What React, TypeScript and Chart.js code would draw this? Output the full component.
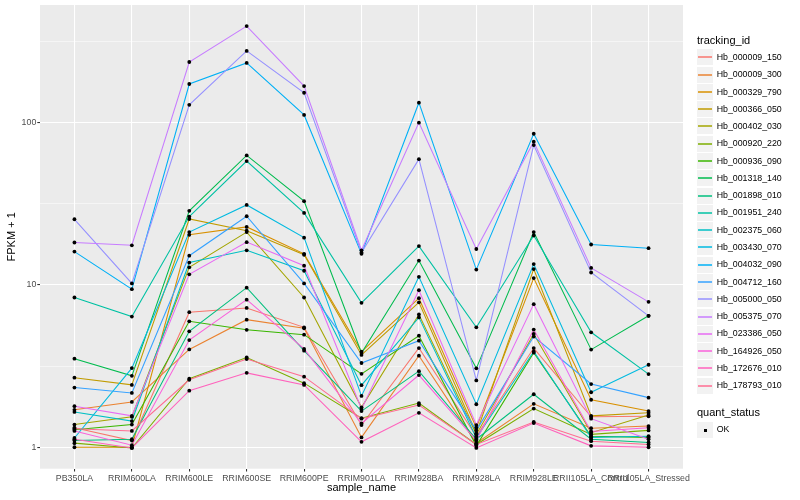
import React, { useEffect, useRef } from 'react';
import { Chart, registerables } from 'chart.js';

Chart.register(...registerables);

const FONT = '"Liberation Sans", Arial, Helvetica, sans-serif';

// ---------- data ----------
const categories = [
  'PB350LA', 'RRIM600LA', 'RRIM600LE', 'RRIM600SE', 'RRIM600PE', 'RRIM901LA',
  'RRIM928BA', 'RRIM928LA', 'RRIM928LE', 'RRII105LA_Control', 'RRII105LA_Stressed',
];

const hb000009_150 = [1.32, 1.10, 6.78, 7.2, 5.47, 1.37, 4.08, 1.17, 4.08, 1.54, 1.55];
const hb000009_300 = [1.70, 1.90, 4.0, 6.1, 5.4, 1.15, 3.66, 1.06, 1.85, 1.31, 1.35];
const hb000329_790 = [1.00, 1.00, 20.3, 22.7, 15.5, 3.88, 8.27, 1.32, 11.0, 1.96, 1.67];
const hb000366_050 = [2.68, 2.42, 25.4, 21.5, 15.3, 3.70, 7.8, 1.22, 12.5, 1.56, 1.63];
const hb000402_030 = [1.38, 1.54, 12.8, 21.1, 8.35, 1.76, 6.56, 1.20, 4.98, 1.23, 1.58];
const hb000920_220 = [1.06, 0.99, 2.64, 3.57, 2.48, 1.51, 1.87, 1.04, 1.73, 1.20, 1.27];
const hb000936_090 = [1.28, 1.38, 5.96, 5.28, 4.93, 2.83, 4.86, 1.02, 3.82, 1.17, 1.15];
const hb001318_140 = [3.51, 2.75, 28.5, 62.5, 32.7, 3.80, 14.1, 3.06, 21.1, 3.99, 6.44];
const hb001898_010 = [1.10, 1.12, 5.17, 9.6, 3.93, 1.67, 2.94, 1.12, 2.12, 1.12, 1.07];
const hb001951_240 = [8.35, 6.37, 26.3, 57.7, 27.7, 7.74, 17.3, 5.47, 20.1, 5.10, 2.82];
const hb002375_060 = [1.65, 1.45, 13.7, 16.3, 12.2, 2.41, 6.3, 1.14, 3.89, 1.15, 1.17];
const hb003430_070 = [1.14, 3.07, 21.1, 31.0, 19.5, 2.07, 11.2, 1.84, 13.4, 2.18, 3.22];
const hb004032_090 = [16.0, 9.4, 172, 232, 111, 15.5, 132, 12.4, 85, 17.7, 16.8];
const hb004712_160 = [2.33, 2.16, 15.1, 26.4, 10.2, 3.30, 4.53, 1.27, 4.80, 2.45, 2.02];
const hb005000_050 = [25.3, 10.2, 128, 275, 152, 15.8, 59.3, 2.58, 72.4, 11.9, 6.44];
const hb005375_070 = [18.2, 17.5, 235, 391, 167, 16.3, 99.5, 16.6, 76, 12.7, 7.85];
const hb023386_050 = [1.79, 1.56, 11.6, 18.3, 13.1, 1.72, 9.26, 1.37, 7.6, 1.50, 1.12];
const hb164926_050 = [1.26, 1.03, 4.57, 8.1, 4.03, 1.40, 2.78, 1.10, 5.3, 1.25, 1.32];
const hb172676_010 = [1.12, 0.99, 2.23, 2.87, 2.42, 1.08, 1.63, 0.99, 1.41, 1.02, 1.00];
const hb178793_010 = [1.30, 1.26, 2.60, 3.49, 2.72, 1.50, 1.82, 1.04, 1.43, 1.09, 1.04];

const seriesIds = [
  'Hb_000009_150', 'Hb_000009_300', 'Hb_000329_790', 'Hb_000366_050', 'Hb_000402_030',
  'Hb_000920_220', 'Hb_000936_090', 'Hb_001318_140', 'Hb_001898_010', 'Hb_001951_240',
  'Hb_002375_060', 'Hb_003430_070', 'Hb_004032_090', 'Hb_004712_160', 'Hb_005000_050',
  'Hb_005375_070', 'Hb_023386_050', 'Hb_164926_050', 'Hb_172676_010', 'Hb_178793_010',
];
const seriesValues = [
  hb000009_150, hb000009_300, hb000329_790, hb000366_050, hb000402_030,
  hb000920_220, hb000936_090, hb001318_140, hb001898_010, hb001951_240,
  hb002375_060, hb003430_070, hb004032_090, hb004712_160, hb005000_050,
  hb005375_070, hb023386_050, hb164926_050, hb172676_010, hb178793_010,
];
const palette = [
  '#F8766D', '#EA8331', '#D89000', '#C09B00', '#A3A500', '#7CAE00', '#39B600',
  '#00BB4E', '#00BF7D', '#00C1A3', '#00BFC4', '#00BAE0', '#00B0F6', '#35A2FF',
  '#9590FF', '#C77CFF', '#E76BF3', '#FA62DB', '#FF62BC', '#FF6C91',
];

const yMajorTicks = [1, 10, 100];
const yMajorLabels = ['1', '10', '100'];
const yMinorTicks = [3.16228, 31.6228, 316.228];
const statusLabels = ['OK'];

// ---------- layout ----------
const W = 800;
const H = 500;
const PANEL_RIGHT = 683;
const PANEL_TOP = 5;
const PANEL_BOTTOM = 468.7;
const Y_AXIS_W = 40;
const LEG_X = 697;
const KEY = 17.28;
const KEY0_TOP = 48.7;

const panelBg = {
  id: 'panelBg',
  beforeDraw(chart: any) {
    const { ctx, chartArea: a } = chart;
    ctx.save();
    ctx.fillStyle = '#EBEBEB';
    ctx.fillRect(a.left, a.top, a.right - a.left, a.bottom - a.top);
    ctx.restore();
  },
};

export default function App() {
  const ref = useRef<HTMLCanvasElement>(null);

  useEffect(() => {
    const canvas = ref.current;
    if (!canvas) return;
    const isMajor = (v: number) => yMajorTicks.includes(v);

    const lineSets: any[] = seriesIds.map((id, i) => ({
      type: 'line',
      label: id,
      data: seriesValues[i].map((v, j) => ({ x: j, y: v })),
      borderColor: palette[i],
      backgroundColor: palette[i],
      borderWidth: 1.07,
      pointRadius: 0,
      pointHoverRadius: 0,
      tension: 0,
      fill: false,
      order: seriesIds.length - i,
    }));
    const pointSet: any = {
      type: 'line',
      label: statusLabels[0],
      data: seriesValues.flatMap((vals) => vals.map((v, j) => ({ x: j, y: v }))),
      showLine: false,
      pointRadius: 1.9,
      pointHoverRadius: 1.9,
      pointBackgroundColor: '#000000',
      pointBorderWidth: 0,
      order: 0,
    };

    const chart = new Chart(canvas, {
      type: 'line',
      data: { datasets: [...lineSets, pointSet] },
      plugins: [panelBg],
      options: {
        animation: false,
        responsive: false,
        events: [],
        layout: { padding: { left: 0, right: W - PANEL_RIGHT, top: PANEL_TOP, bottom: 0 } },
        plugins: { legend: { display: false }, tooltip: { enabled: false } },
        scales: {
          x: {
            type: 'linear',
            min: -0.6,
            max: categories.length - 1 + 0.6,
            bounds: 'data',
            afterBuildTicks: (s: any) => {
              s.ticks = categories.map((_, i) => ({ value: i }));
            },
            afterFit: (s: any) => {
              s.height = H - PANEL_BOTTOM;
              s.paddingLeft = 0;
              s.paddingRight = 0;
            },
            grid: {
              color: '#FFFFFF',
              lineWidth: 1.07,
              tickLength: 2.7,
              tickColor: '#333333',
              tickWidth: 1.07,
            },
            border: { display: false },
            ticks: {
              callback: (v: any) => categories[v] ?? '',
              color: '#4D4D4D',
              font: { size: 8.8, family: FONT },
              padding: 1.5,
              autoSkip: false,
              maxRotation: 0,
              minRotation: 0,
            },
            title: {
              display: true,
              text: 'sample_name',
              color: '#000000',
              font: { size: 11, family: FONT },
              padding: { top: 0, bottom: 5.9 },
            },
          },
          y: {
            type: 'logarithmic',
            min: 0.738,
            max: 527,
            bounds: 'data',
            afterBuildTicks: (s: any) => {
              s.ticks = [...yMajorTicks, ...yMinorTicks]
                .sort((a, b) => a - b)
                .map((v) => ({ value: v, major: isMajor(v) }));
            },
            afterFit: (s: any) => {
              s.width = Y_AXIS_W;
              s.paddingTop = 0;
              s.paddingBottom = 0;
            },
            grid: {
              color: '#FFFFFF',
              lineWidth: (c: any) => (c.tick && isMajor(c.tick.value) ? 1.07 : 0.53),
              tickLength: 2.7,
              tickColor: (c: any) => (c.tick && isMajor(c.tick.value) ? '#333333' : 'rgba(0,0,0,0)'),
              tickWidth: 1.07,
            },
            border: { display: false },
            ticks: {
              callback: (v: any) => {
                const k = yMajorTicks.indexOf(Number(v));
                return k >= 0 ? yMajorLabels[k] : '';
              },
              color: '#4D4D4D',
              font: { size: 8.8, family: FONT },
              padding: 1,
              autoSkip: false,
            },
            title: {
              display: true,
              text: 'FPKM + 1',
              color: '#000000',
              font: { size: 11, family: FONT },
              padding: { top: 5.1, bottom: 0 },
            },
          },
        },
      } as any,
    } as any);

    return () => chart.destroy();
  }, []);

  const textStyle: React.CSSProperties = {
    position: 'absolute',
    fontFamily: FONT,
    whiteSpace: 'nowrap',
    lineHeight: '1',
  };

  const keyBox = (top: number): React.CSSProperties => ({
    position: 'absolute',
    left: LEG_X,
    top,
    width: 16,
    height: 16,
    background: '#F2F2F2',
  });

  return (
    <div style={{ position: 'absolute', left: 0, top: 0, width: W, height: H, background: '#FFFFFF' }}>
      <canvas ref={ref} width={W} height={H} style={{ width: W, height: H, display: 'block' }} />
      <div style={{ ...textStyle, left: LEG_X, top: 40.7 - 5.5, fontSize: 11, color: '#000' }}>tracking_id</div>
      {seriesIds.map((id, i) => {
        const center = KEY0_TOP + i * KEY + KEY / 2;
        const boxTop = Math.round(center - 8);
        return (
          <React.Fragment key={id}>
            <div style={keyBox(boxTop)}>
              <div
                style={{
                  position: 'absolute',
                  left: 1,
                  width: 14,
                  top: 7,
                  height: 2,
                  background: palette[i],
                  opacity: 0.75,
                }}
              />
            </div>
            <div style={{ ...textStyle, left: 716.7, top: center - 4.4, fontSize: 8.8, color: '#000' }}>{id}</div>
          </React.Fragment>
        );
      })}
      <div style={{ ...textStyle, left: LEG_X, top: 412.7 - 5.5, fontSize: 11, color: '#000' }}>quant_status</div>
      <div style={keyBox(Math.round(429.5 - 8))}>
        <div
          style={{
            position: 'absolute',
            left: 6.5,
            top: 6.5,
            width: 3,
            height: 3,
            background: '#000',
          }}
        />
      </div>
      <div style={{ ...textStyle, left: 716.7, top: 429.5 - 4.4, fontSize: 8.8, color: '#000' }}>{statusLabels[0]}</div>
    </div>
  );
}
